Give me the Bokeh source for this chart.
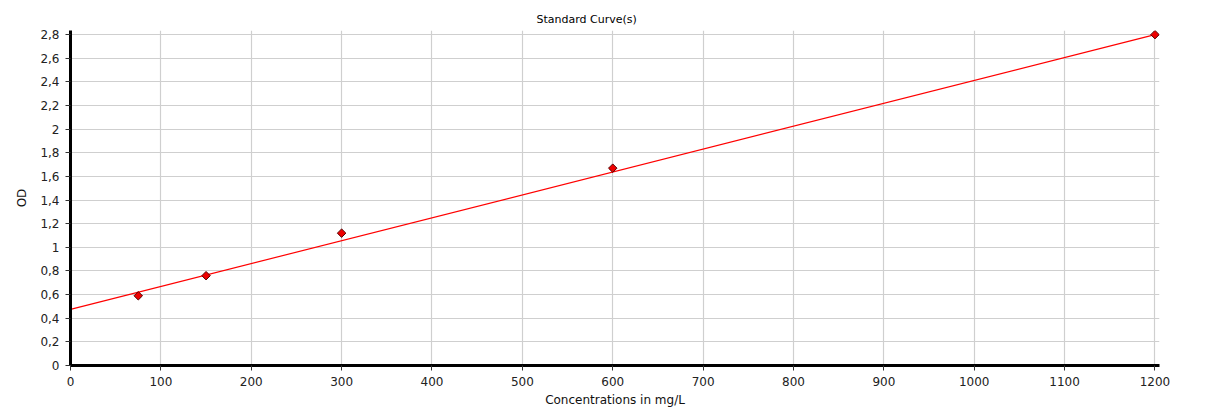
import math
from bokeh.plotting import figure
from bokeh.models import Range1d, FixedTicker, CustomJSTickFormatter
from bokeh.embed import file_html
from bokeh.resources import INLINE

# Data
conc = [75, 150, 300, 600, 1200]
od = [0.59, 0.76, 1.12, 1.67, 2.80]
fit_x = [0, 1200]
fit_y = [0.475, 2.80]
x_ticks = [0, 100, 200, 300, 400, 500, 600, 700, 800, 900, 1000, 1100, 1200]
y_ticks = [0, 0.2, 0.4, 0.6, 0.8, 1.0, 1.2, 1.4, 1.6, 1.8, 2.0, 2.2, 2.4, 2.6, 2.8]

FONT = "DejaVu Sans"

p = figure(width=1200, height=409, output_backend="svg", toolbar_location=None,
           x_range=Range1d(0, 1205), y_range=Range1d(0, 2.835),
           min_border_left=70, min_border_right=41, min_border_bottom=43, min_border_top=30,
           background_fill_color="white", border_fill_color="white")
p.outline_line_color = None

p.title.text = "Standard Curve(s)"
p.title.align = "left"
p.title.offset = 466
p.title.text_font = FONT
p.title.text_font_size = "11px"
p.title.text_font_style = "normal"
p.title.text_color = "#000000"
p.title.standoff = 9

p.xaxis.ticker = FixedTicker(ticks=x_ticks, num_minor_ticks=4)
p.yaxis.ticker = FixedTicker(ticks=y_ticks, num_minor_ticks=4)
p.yaxis.formatter = CustomJSTickFormatter(code="""
var s = (Math.round(tick*10)/10).toString();
return s.replace('.', ',');
""")

for ax in (p.xaxis, p.yaxis):
    ax.axis_line_width = 3
    ax.axis_line_color = "black"
    ax.major_tick_line_color = "#333333"
    ax.minor_tick_line_color = "#555555"
    ax.major_tick_out = 5
    ax.major_tick_in = 0
    ax.minor_tick_out = 3
    ax.minor_tick_in = 0
    ax.major_label_text_font = FONT
    ax.major_label_text_font_size = "12px"
    ax.major_label_text_color = "#222222"
    ax.axis_label_text_font = FONT
    ax.axis_label_text_font_size = "12px"
    ax.axis_label_text_font_style = "normal"
    ax.axis_label_text_color = "#111111"

p.xaxis.axis_label = "Concentrations in mg/L"
p.yaxis.axis_label = "OD"
p.xaxis.major_label_standoff = 6
p.yaxis.major_label_standoff = 6
p.xaxis.axis_label_standoff = 4
p.yaxis.axis_label_standoff = 8

p.grid.grid_line_color = "#cfcfcf"
p.grid.grid_line_width = 1.2
p.xgrid.ticker = FixedTicker(ticks=x_ticks)
p.ygrid.ticker = FixedTicker(ticks=y_ticks)

p.line(fit_x, fit_y, line_color="#ff0000", line_width=1.2)
p.scatter(conc, od, marker="square", angle=math.pi / 4, size=6,
          fill_color="#ee0000", line_color="#550000", line_width=1)

open("out.html", "w").write(file_html(p, INLINE))
